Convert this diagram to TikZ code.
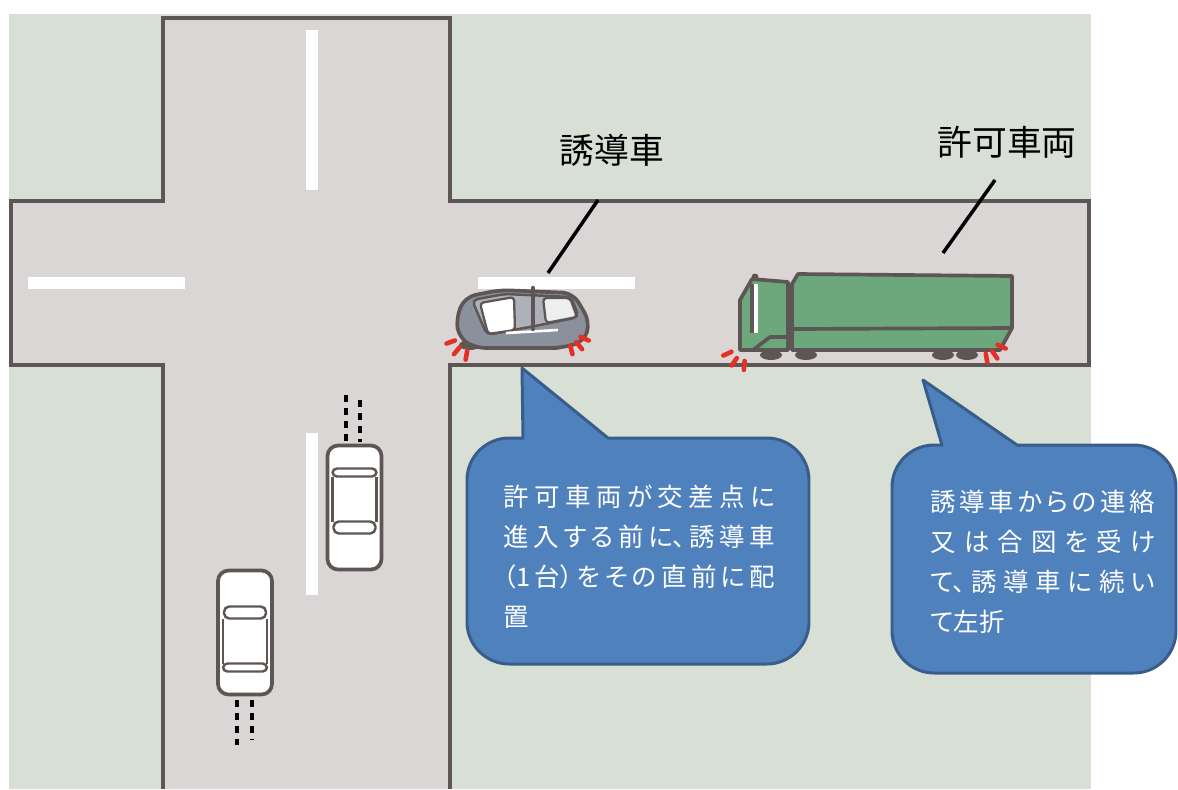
\documentclass[tikz,border=0pt]{standalone}
\usepackage{fontspec}
\newfontfamily\jp{Noto Sans CJK JP}
\newfontfamily\jpp{Noto Sans CJK JP}[RawFeature=+palt]
\XeTeXlinebreaklocale "ja"
\XeTeXlinebreakskip=0pt plus 6pt
\tolerance=9999
\definecolor{ground}{RGB}{216,223,213}
\definecolor{asphalt}{RGB}{218,214,213}
\definecolor{curb}{RGB}{94,86,84}
\definecolor{truckgreen}{RGB}{108,168,124}
\definecolor{bodygray}{RGB}{138,145,156}
\definecolor{flashred}{RGB}{228,48,36}
\definecolor{bubble}{RGB}{79,129,189}
\definecolor{bubbleline}{RGB}{56,93,138}

\begin{document}
\begin{tikzpicture}[x=0.02cm,y=-0.02cm,line join=round,
  curbline/.style={draw=curb,line width=2.3pt,line join=miter},
  lane/.style={white,line width=6.8pt},
  trail/.style={black,line width=2.3pt,dash pattern=on 4pt off 3.4pt},
  outline/.style={draw=curb,line width=2.1pt},
  flash/.style={flashred,line width=2.6pt,line cap=round},
  leader/.style={black,line width=2pt},
  bubblebox/.style={fill=bubble,draw=bubbleline,line width=1.7pt},
  tagtext/.style={font=\jp\fontsize{19.8}{24}\selectfont,inner sep=0pt},
  notetext/.style={font=\jpp\fontsize{14.5}{22.7}\selectfont,text=white,
    inner sep=0pt,anchor=north west,align=justify}]
  % Road edges
  \def\roadL{163}
  \def\roadR{450}
  \def\roadT{201}
  \def\roadB{365}
  %
  \useasboundingbox (0,0) rectangle (1178,789);
  %
  % Ground
  \fill[ground] (9,14) rectangle (1091,789);
  %
  % Road
  \path[fill=asphalt,curbline] (\roadL,789) -- (\roadL,\roadB) -- (11,\roadB)
    -- (11,\roadT) -- (\roadL,\roadT) -- (\roadL,18) -- (\roadR,18)
    -- (\roadR,\roadT) -- (1089,\roadT) -- (1089,\roadB) -- (\roadR,\roadB)
    -- (\roadR,789);
  %
  % Lane marks
  \foreach \ya/\yb in {30/190,433/595}
    \draw[lane] (312,\ya) -- (312,\yb);
  \foreach \xa/\xb in {28/185,478/635}
    \draw[lane] (\xa,283) -- (\xb,283);
  %
  % Trails behind the cars
  \foreach \x/\ya/\yb in {346/395/442,360/400/442,237/700/745,252/700/740}
    \draw[trail] (\x,\ya) -- (\x,\yb);
  %
  % Cars seen from above
  \foreach \cx/\cy/\rot in {354.5/507.5/0,245/632.5/180}{
    \begin{scope}[shift={(\cx,\cy)},rotate=\rot]
      \draw[outline,fill=white,rounded corners=6pt] (-27,-62) rectangle (27,62);
      \draw[outline,line width=1.4pt,rounded corners=2.5pt] (-22,-39) rectangle (22,-31);
      \draw[outline,line width=1.4pt] (-22,-31) -- (-22,14) (22,-31) -- (22,14);
      \draw[outline,line width=1.4pt,rounded corners=3pt] (-21,14) rectangle (21,26);
    \end{scope}}
  %
  % Pilot car
  \foreach \x in {470,554}
    \fill[curb] (\x,345) ellipse [x radius=11,y radius=5];
  \draw[outline,fill=bodygray,rounded corners=6pt] (456,318) -- (465,297)
    -- (500,290) -- (573,293) -- (590,322) -- (584,342) -- (560,348)
    -- (475,348) -- (459,338) -- cycle;
  \draw[outline,line width=1.4pt,fill=bodygray!70!white,rounded corners=3pt]
    (472,300) -- (505,294) -- (571,297) -- (579,317) -- (540,325)
    -- (487,335) -- cycle;
  \draw[outline,line width=1.3pt,fill=white,rounded corners=2pt]
    (480,303) -- (514,297) -- (515,330) -- (488,334) -- cycle;
  \draw[outline,line width=1.3pt,fill=white!85!bodygray,rounded corners=2pt]
    (543,298) -- (570,298) -- (577,317) -- (546,323) -- cycle;
  \draw[white,line width=1.5pt] (506,333) -- (558,330);
  \draw[curb,line width=2.6pt,line cap=round] (533,288) -- (533,329);
  %
  % Truck
  \foreach \x in {771,806,943,967}
    \fill[curb] (\x,355) ellipse [x radius=11,y radius=5];
  \draw[outline,fill=truckgreen] (740,350) -- (740,300) -- (752,279)
    -- (788,282) -- (788,350) -- cycle;
  \fill[white] (752,284) rectangle (758,333);
  \draw[outline] (752,284) -- (752,333);
  \draw[outline] (753,350) -- (770,337) -- (788,337);
  \fill[curb] (755,277) circle [radius=3.5];
  \draw[outline,fill=truckgreen] (792,350) -- (792,284) -- (798,274)
    -- (1012,276) -- (1012,328) -- (1000,350) -- cycle;
  \draw[outline] (792,329) -- (1012,328);
  %
  % Hazard flashes
  \foreach \px/\py/\aa/\ab/\ac in {470/335/160/130/100,566/330/25/50/75,
                                  746/345/155/125/95,983/338/25/55/80}
    \foreach \ang in {\aa,\ab,\ac}
      \draw[flash] (\px,\py) ++(\ang:16) -- ++(\ang:9);
  %
  % Labels
  \node[tagtext] (lblPilot) at (612,150) {誘導車};
  \node[tagtext] (lblTruck) at (1007,142) {許可車両};
  \coordinate (pilotTop) at (598,200);
  \coordinate (pilotCar) at (548,273);
  \coordinate (truckTop) at (995,180);
  \coordinate (truckCar) at (943,253);
  \draw[leader] (pilotTop) -- (pilotCar);
  \draw[leader] (truckTop) -- (truckCar);
  %
  % Callouts
  \draw[bubblebox,rounded corners=24pt] (700,438) -- (809,438) -- (809,664)
    -- (467,664) -- (467,438) [sharp corners] -- (523,438) -- (522,368)
    -- (608,438) -- cycle;
  \draw[bubblebox,rounded corners=24pt] (1100,445) -- (1176,445) -- (1176,673)
    -- (892,673) -- (892,445) [sharp corners] -- (942,445) -- (923,380)
    -- (1017,445) -- cycle;
  \node[notetext,text width=5.44cm] (notePilot) at (503,485)
    {許可車両が交差点に\linebreak 進入する前に、誘導車\linebreak （1台）をその直前に配\linebreak 置};
  \node[notetext,text width=4.5cm] (noteTruck) at (930,490)
    {誘導車からの連絡\linebreak 又は合図を受け\linebreak て、誘導車に続い\linebreak て左折};
  %
\end{tikzpicture}
\end{document}
